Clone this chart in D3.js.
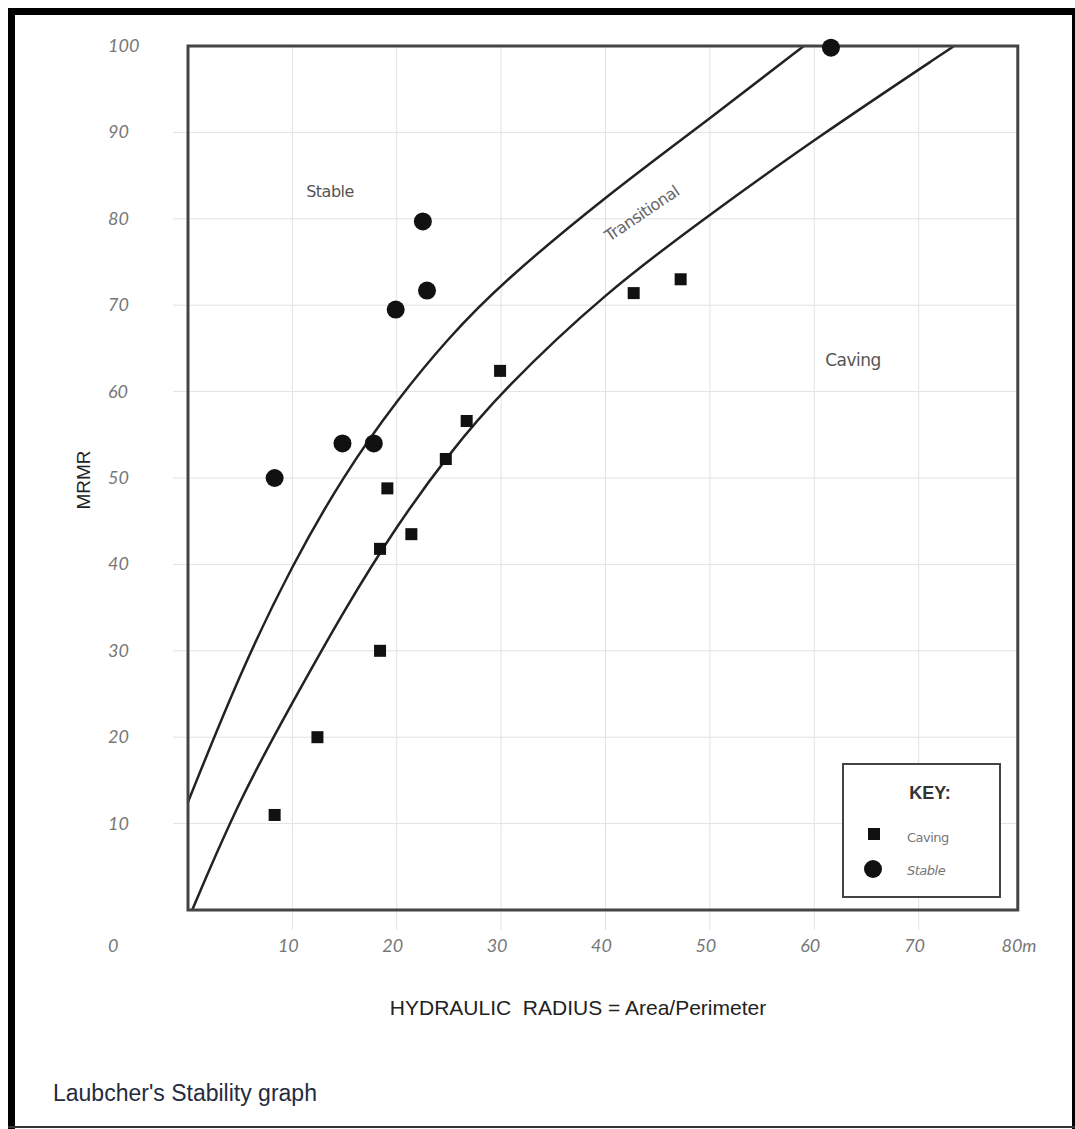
<!DOCTYPE html>
<html>
<head>
<meta charset="utf-8">
<script src="https://cdn.jsdelivr.net/npm/d3@7"></script>
<style>
  body { margin: 0; background: #fff; }
  svg { display: block; }
</style>
</head>
<body>
<div id="chart"></div>
<script>
// values
const xTicks = [10, 20, 30, 40, 50, 60, 70, 80];
const yTicks = [10, 20, 30, 40, 50, 60, 70, 80, 90, 100];

// Stable cases (circles)
const stableX = [8.3, 14.8, 17.8, 19.9, 22.5, 22.9, 61.6];
const stableY = [50, 54, 54, 69.5, 79.7, 71.7, 99.8];

// Caving cases (squares)
const cavingX = [8.3, 12.4, 18.4, 18.4, 19.1, 21.4, 24.7, 26.7, 29.9, 42.7, 47.2];
const cavingY = [11, 20, 30, 41.8, 48.8, 43.5, 52.2, 56.6, 62.4, 71.4, 73.0];

// boundary curves
const upperX = [0, 5, 10, 15, 20, 25, 30, 40, 50, 59];
const upperY = [12.5, 27.5, 40, 50.5, 59, 66.3, 72.5, 82.6, 91.6, 100];
const lowerX = [0.4, 5, 10, 15, 20, 25, 30, 40, 50, 60, 73.4];
const lowerY = [0, 13, 24, 34.8, 44.5, 52.8, 60, 71.5, 80.5, 89.2, 100];

const W = 1075, H = 1129;
const svg = d3.select('#chart').append('svg')
    .attr('width', W)
    .attr('height', H);

const x = d3.scaleLinear().domain([0, 80]).range([188, 1023]);
const y = d3.scaleLinear().domain([0, 100]).range([910, 46]);
const xRight = x(79.5);

// outer black border
svg.append('rect').attr('x', 8).attr('y', 8).attr('width', 7).attr('height', H - 8).attr('fill', '#000');
svg.append('rect').attr('x', 8).attr('y', 8).attr('width', W - 8).attr('height', 7).attr('fill', '#000');
svg.append('rect').attr('x', W - 3).attr('y', 8).attr('width', 3).attr('height', H - 8).attr('fill', '#000');
svg.append('rect').attr('x', 8).attr('y', H - 3).attr('width', W - 8).attr('height', 2).attr('fill', '#333');

// grid
const grid = svg.append('g').attr('stroke', '#e2e2e2').attr('stroke-width', 1);
grid.selectAll('.gx').data(xTicks.filter(d => d < 80)).enter().append('line')
    .attr('x1', d => x(d)).attr('x2', d => x(d))
    .attr('y1', y(100)).attr('y2', 930);
grid.selectAll('.gy').data(yTicks.filter(d => d < 100)).enter().append('line')
    .attr('x1', 173).attr('x2', xRight)
    .attr('y1', d => y(d)).attr('y2', d => y(d));

// tick labels
const tickFont = 'Lato, "Open Sans", sans-serif';
svg.selectAll('.xl').data(xTicks).enter().append('text')
    .attr('x', d => x(d) - 4)
    .attr('y', 952)
    .attr('text-anchor', 'middle')
    .style('font-family', tickFont).style('font-style', 'italic')
    .style('font-size', '18px').style('fill', '#777')
    .text(d => d === 80 ? '80m' : d);
svg.append('text').attr('x', 108).attr('y', 952)
    .style('font-family', tickFont).style('font-style', 'italic')
    .style('font-size', '18px').style('fill', '#777').text('0');
svg.selectAll('.yl').data(yTicks).enter().append('text')
    .attr('x', 108)
    .attr('y', d => y(d) + 6)
    .style('font-family', tickFont).style('font-style', 'italic')
    .style('font-size', '18px').style('fill', '#777')
    .text(d => d);

// curves
const line = d3.line().x(d => x(d[0])).y(d => y(d[1])).curve(d3.curveBasis);
svg.append('path').datum(upperX.map((v, i) => [v, upperY[i]]))
    .attr('d', line).attr('fill', 'none').attr('stroke', '#222').attr('stroke-width', 2.5);
svg.append('path').datum(lowerX.map((v, i) => [v, lowerY[i]]))
    .attr('d', line).attr('fill', 'none').attr('stroke', '#222').attr('stroke-width', 2.5);

// plot frame
svg.append('rect').attr('x', x(0)).attr('y', y(100))
    .attr('width', xRight - x(0)).attr('height', y(0) - y(100))
    .attr('fill', 'none').attr('stroke', '#444').attr('stroke-width', 3);

// points
svg.selectAll('.cv').data(cavingX.map((v, i) => [v, cavingY[i]])).enter().append('rect')
    .attr('x', d => x(d[0]) - 6).attr('y', d => y(d[1]) - 6)
    .attr('width', 12).attr('height', 12).attr('fill', '#111');
svg.selectAll('.st').data(stableX.map((v, i) => [v, stableY[i]])).enter().append('circle')
    .attr('cx', d => x(d[0])).attr('cy', d => y(d[1]))
    .attr('r', 9).attr('fill', '#111');

// zone labels
const zoneFont = '"DejaVu Sans", sans-serif';
svg.append('text').attr('x', 330).attr('y', 197).attr('text-anchor', 'middle')
    .style('font-family', zoneFont).style('font-size', '16px').style('fill', '#555')
    .style('letter-spacing', '-0.5px').text('Stable');
svg.append('text').attr('x', 853).attr('y', 366).attr('text-anchor', 'middle')
    .style('font-family', zoneFont).style('font-size', '17px').style('fill', '#555')
    .style('letter-spacing', '-0.5px').text('Caving');
svg.append('text').attr('transform', 'translate(645,218) rotate(-34)')
    .attr('text-anchor', 'middle')
    .style('font-family', zoneFont).style('font-size', '16px').style('fill', '#666')
    .style('letter-spacing', '-0.5px').text('Transitional');

// legend
const legend = svg.append('g');
legend.append('rect').attr('x', 843).attr('y', 764).attr('width', 157).attr('height', 133)
    .attr('fill', '#fff').attr('stroke', '#444').attr('stroke-width', 2);
legend.append('text').attr('x', 930).attr('y', 799).attr('text-anchor', 'middle')
    .style('font-family', 'Liberation Sans, Arial, sans-serif').style('font-weight', 'bold')
    .style('font-size', '18px').style('fill', '#333').text('KEY:');
legend.append('rect').attr('x', 868).attr('y', 828).attr('width', 12).attr('height', 12).attr('fill', '#111');
legend.append('circle').attr('cx', 873).attr('cy', 869).attr('r', 9).attr('fill', '#111');
legend.append('text').attr('x', 907).attr('y', 842)
    .style('font-family', zoneFont).style('font-size', '13px').style('fill', '#777')
    .style('letter-spacing', '-0.5px').text('Caving');
legend.append('text').attr('x', 907).attr('y', 875)
    .style('font-family', zoneFont).style('font-style', 'italic').style('font-size', '13px').style('fill', '#777')
    .style('letter-spacing', '-0.5px').text('Stable');

// axis titles
svg.append('text').attr('transform', 'translate(90,480) rotate(-90)')
    .attr('text-anchor', 'middle')
    .style('font-family', 'Liberation Sans, Arial, sans-serif').style('font-size', '19px').style('fill', '#222')
    .text('MRMR');
svg.append('text').attr('x', 578).attr('y', 1015).attr('text-anchor', 'middle')
    .style('font-family', 'Liberation Sans, Arial, sans-serif').style('font-size', '21px').style('fill', '#222')
    .style('white-space', 'pre')
    .text('HYDRAULIC  RADIUS = Area/Perimeter');

// caption
svg.append('text').attr('x', 53).attr('y', 1101)
    .style('font-family', 'Liberation Sans, Arial, sans-serif').style('font-size', '23px').style('fill', '#262b40')
    .text("Laubcher's Stability graph");
</script>
</body>
</html>
